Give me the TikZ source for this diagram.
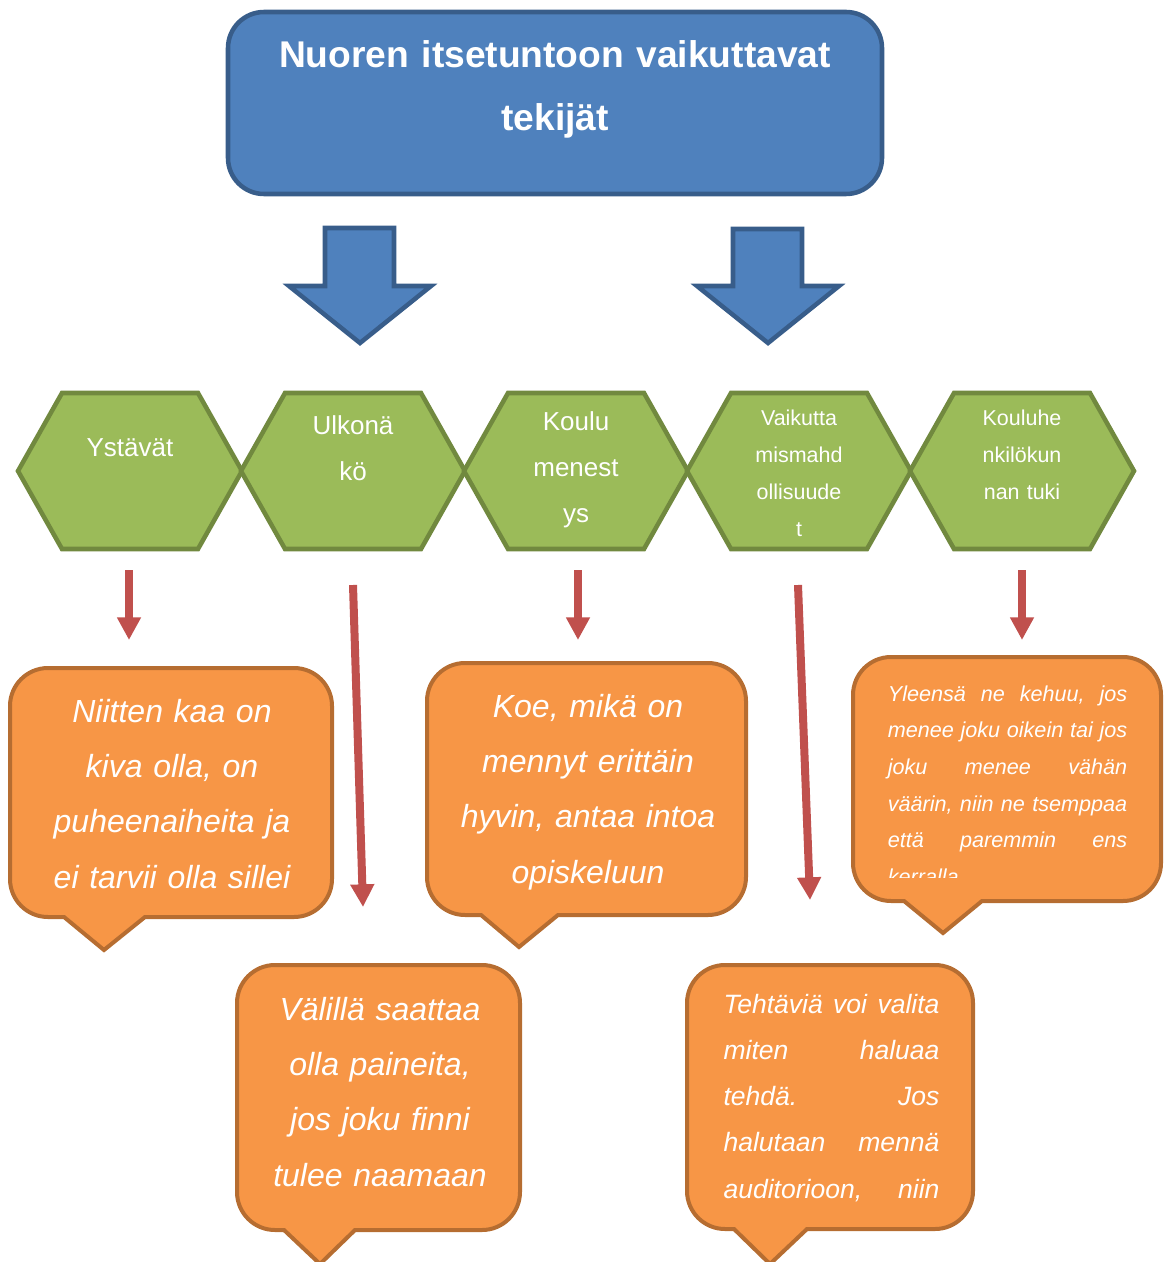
\documentclass[tikz,border=0pt]{standalone}
\usepackage{fontspec}
\setmainfont{Liberation Sans}
\usetikzlibrary{arrows.meta}
\definecolor{bluefill}{HTML}{4F81BD}
\definecolor{blueline}{HTML}{385D8A}
\definecolor{greenfill}{HTML}{9BBB59}
\definecolor{greenline}{HTML}{71893F}
\definecolor{orangefill}{HTML}{F79646}
\definecolor{orangeline}{HTML}{B66D31}
\definecolor{redarrow}{HTML}{C0504D}
\hyphenpenalty=10000
\exhyphenpenalty=10000

\newcommand\hexagonshape[1]{%
  \draw[hexstyle] (#1-112,471) -- (#1-68,393) -- (#1+68,393) -- (#1+112,471) -- (#1+68,549) -- (#1-68,549) -- cycle;}
% x1, top, x2, bottom, pointer left, tip x, tip y, pointer right
\newcommand\calloutshape[8]{%
  \draw[callstyle] (#5,#4) -- (#1+38,#4) arc[start angle=90,end angle=180,radius=38]
    -- (#1,#2+38) arc[start angle=180,end angle=270,radius=38]
    -- (#3-38,#2) arc[start angle=270,end angle=360,radius=38]
    -- (#3,#4-38) arc[start angle=0,end angle=90,radius=38]
    -- (#8,#4) -- (#6,#7) -- cycle;}

\begin{document}
\begin{tikzpicture}[x=0.75pt,y=-0.75pt,
  titlebox/.style={draw=blueline,fill=bluefill,line width=3.4pt,rounded corners=27pt,
    minimum width=490.5pt,minimum height=136.5pt,inner sep=0pt},
  titletext/.style={text=white,font=\bfseries\fontsize{27.9}{47.25}\selectfont,
    align=center,text width=500pt,anchor=base,inner sep=0pt},
  blockarrow/.style={draw=blueline,fill=bluefill,line width=3.4pt,line join=miter},
  hexstyle/.style={draw=greenline,fill=greenfill,line width=3.4pt},
  hextext/.style={text=white,font=\fontsize{19.5}{34.5}\selectfont,align=center,
    text width=150pt,anchor=base,inner sep=0pt},
  hextextsmall/.style={hextext,font=\fontsize{16.1}{27.75}\selectfont},
  callstyle/.style={draw=orangeline,fill=orangefill,line width=3pt,line join=miter},
  calltext/.style={text=white,font=\itshape\fontsize{24}{41.6}\selectfont,align=center,
    text width=240pt,anchor=base,inner sep=0pt},
  calljust/.style={text=white,align=left,anchor=base,inner sep=0pt},
  redarr/.style={draw=redarrow,line width=6pt,-{Triangle[width=17pt,length=17pt]}}]

\useasboundingbox (0,0) rectangle (1168,1262);
\clip (0,0) rectangle (1168,1262);

% title
\node[titlebox] (title) at (555,103) {};
\node[titletext] (titletxt) at (555,68) {Nuoren itsetuntoon vaikuttavat\\tekijät};

% block arrows
\draw[blockarrow] (325,228) -- (394,228) -- (394,286) -- (431,286) -- (360,343) -- (289,286) -- (325,286) -- cycle;
\draw[blockarrow] (733,229) -- (802,229) -- (802,286) -- (839,286) -- (768,343) -- (697,286) -- (733,286) -- cycle;

% hexagons
\hexagonshape{130}
\hexagonshape{353}
\hexagonshape{576}
\hexagonshape{799}
\hexagonshape{1022}
\node[hextext] (h1) at (130,456) {Ystävät};
\node[hextext] (h2) at (353,434) {Ulkonä\\kö};
\node[hextext] (h3) at (576,430) {Koulu\\menest\\ys};
\node[hextextsmall] (h4) at (799,425) {Vaikutta\\mismahd\\ollisuude\\t};
\node[hextextsmall] (h5) at (1022,425) {Kouluhe\\nkilökun\\nan tuki};

% red arrows
\coordinate (a1s) at (129,570); \coordinate (a1e) at (129,640);
\coordinate (a2s) at (353,585); \coordinate (a2e) at (363,907);
\coordinate (a3s) at (578,570); \coordinate (a3e) at (578,640);
\coordinate (a4s) at (798,585); \coordinate (a4e) at (810,900);
\coordinate (a5s) at (1022,570); \coordinate (a5e) at (1022,640);
\draw[redarr] (a1s) -- (a1e);
\draw[redarr] (a2s) -- (a2e);
\draw[redarr] (a3s) -- (a3e);
\draw[redarr] (a4s) -- (a4e);
\draw[redarr] (a5s) -- (a5e);

% callouts
\calloutshape{10}{668}{332}{917}{64}{104}{950}{145}
\calloutshape{427}{663}{746}{915}{481}{519}{947}{558}
\calloutshape{853}{657}{1161}{901}{904}{943}{933}{982}
\calloutshape{237}{965}{520}{1230}{284}{320}{1264}{355}
\calloutshape{687}{965}{973}{1229}{734}{770}{1264}{807}

\node[calltext] (c1) at (172,722) {Niitten kaa on\\kiva olla, on\\puheenaiheita ja\\ei tarvii olla sillei};
\node[calltext] (c2) at (588,717) {Koe, mikä on\\mennyt erittäin\\hyvin, antaa intoa\\opiskeluun};
\node[calltext] (c4) at (380,1020) {Välillä saattaa\\olla paineita,\\jos joku finni\\tulee naamaan};
\node[calljust,text width=162pt,font=\itshape\fontsize{19.9}{34.7}\selectfont] (c5) at (831.5,1013)
  {Tehtäviä\hfill voi\hfill valita\\miten\hfill haluaa\\tehdä.\hfill Jos\\halutaan\hfill mennä\\auditorioon,\hfill niin};
\begin{scope}
\clip (860,660) rectangle (1150,877);
\node[calljust,text width=179.5pt,font=\itshape\fontsize{16.2}{27.5}\selectfont] (c3) at (1007.5,701)
  {Yleensä\hfill ne\hfill kehuu,\hfill jos\\menee\hfill joku\hfill oikein\hfill tai\hfill jos\\joku\hfill menee\hfill vähän\\väärin,\hfill niin\hfill ne\hfill tsemppaa\\että\hfill paremmin\hfill ens\\kerralla};
\end{scope}
\end{tikzpicture}
\end{document}
